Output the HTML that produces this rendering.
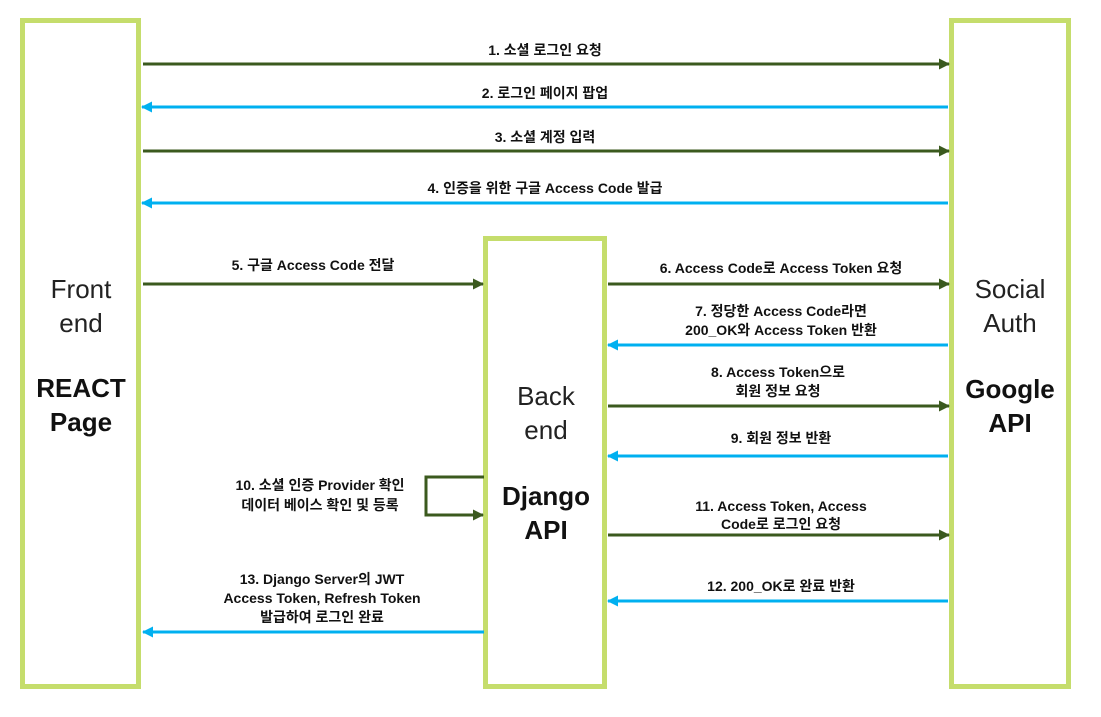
<!DOCTYPE html>
<html><head><meta charset="utf-8"><style>
html,body{margin:0;padding:0;background:#fff;}
svg{display:block;}
text{font-family:"Liberation Sans","Noto Sans CJK KR",sans-serif;}
.l{font-size:14px;font-weight:bold;fill:#111;text-anchor:middle;}
.t{font-size:26px;fill:#222;text-anchor:middle;}
.b{font-size:26px;font-weight:bold;fill:#111;text-anchor:middle;}
</style></head><body>
<svg width="1101" height="717" viewBox="0 0 1101 717" xmlns="http://www.w3.org/2000/svg">
<defs>
<marker id="g" markerWidth="11" markerHeight="11" refX="10" refY="5.5" orient="auto" markerUnits="userSpaceOnUse"><path d="M0,0 L11,5.5 L0,11 z" fill="#3b5a1e"/></marker>
<marker id="c" markerWidth="11" markerHeight="11" refX="10" refY="5.5" orient="auto" markerUnits="userSpaceOnUse"><path d="M0,0 L11,5.5 L0,11 z" fill="#00b0f0"/></marker>
</defs>
<g fill="none" stroke="#c5dd6c" stroke-width="5">
<rect x="22.5" y="20.5" width="116" height="666"/>
<rect x="485.5" y="238.5" width="119" height="448"/>
<rect x="951.5" y="20.5" width="117" height="666"/>
</g>
<g stroke-width="3" fill="none">
<line x1="143" y1="64" x2="949" y2="64" stroke="#3b5a1e" marker-end="url(#g)"/>
<line x1="948" y1="107" x2="142" y2="107" stroke="#00b0f0" marker-end="url(#c)"/>
<line x1="143" y1="151" x2="949" y2="151" stroke="#3b5a1e" marker-end="url(#g)"/>
<line x1="948" y1="203" x2="142" y2="203" stroke="#00b0f0" marker-end="url(#c)"/>
<line x1="143" y1="284" x2="483" y2="284" stroke="#3b5a1e" marker-end="url(#g)"/>
<line x1="608" y1="284" x2="949" y2="284" stroke="#3b5a1e" marker-end="url(#g)"/>
<line x1="948" y1="345" x2="608" y2="345" stroke="#00b0f0" marker-end="url(#c)"/>
<line x1="608" y1="406" x2="949" y2="406" stroke="#3b5a1e" marker-end="url(#g)"/>
<line x1="948" y1="456" x2="608" y2="456" stroke="#00b0f0" marker-end="url(#c)"/>
<polyline points="484,477 426,477 426,515 483,515" stroke="#3b5a1e" marker-end="url(#g)"/>
<line x1="608" y1="535" x2="949" y2="535" stroke="#3b5a1e" marker-end="url(#g)"/>
<line x1="948" y1="601" x2="608" y2="601" stroke="#00b0f0" marker-end="url(#c)"/>
<line x1="484" y1="632" x2="143" y2="632" stroke="#00b0f0" marker-end="url(#c)"/>
</g>
<text class="l" x="545" y="55">1. 소셜 로그인 요청</text>
<text class="l" x="545" y="98">2. 로그인 페이지 팝업</text>
<text class="l" x="545" y="142">3. 소셜 계정 입력</text>
<text class="l" x="545" y="193">4. 인증을 위한 구글 Access Code 발급</text>
<text class="l" x="313" y="270">5. 구글 Access Code 전달</text>
<text class="l" x="781" y="273">6. Access Code로 Access Token 요청</text>
<text class="l" x="781" y="316">7. 정당한 Access Code라면</text>
<text class="l" x="781" y="335">200_OK와 Access Token 반환</text>
<text class="l" x="778" y="377">8. Access Token으로</text>
<text class="l" x="778" y="396">회원 정보 요청</text>
<text class="l" x="781" y="443">9. 회원 정보 반환</text>
<text class="l" x="320" y="490">10. 소셜 인증 Provider 확인</text>
<text class="l" x="320" y="510">데이터 베이스 확인 및 등록</text>
<text class="l" x="781" y="511">11. Access Token, Access</text>
<text class="l" x="781" y="529">Code로 로그인 요청</text>
<text class="l" x="781" y="591">12. 200_OK로 완료 반환</text>
<text class="l" x="322" y="584">13. Django Server의 JWT</text>
<text class="l" x="322" y="603">Access Token, Refresh Token</text>
<text class="l" x="322" y="622">발급하여 로그인 완료</text>
<text class="t" x="81" y="298">Front</text>
<text class="t" x="81" y="332">end</text>
<text class="b" x="81" y="397">REACT</text>
<text class="b" x="81" y="431">Page</text>
<text class="t" x="546" y="405">Back</text>
<text class="t" x="546" y="439">end</text>
<text class="b" x="546" y="505">Django</text>
<text class="b" x="546" y="539">API</text>
<text class="t" x="1010" y="298">Social</text>
<text class="t" x="1010" y="332">Auth</text>
<text class="b" x="1010" y="398">Google</text>
<text class="b" x="1010" y="432">API</text>
</svg>
</body></html>
